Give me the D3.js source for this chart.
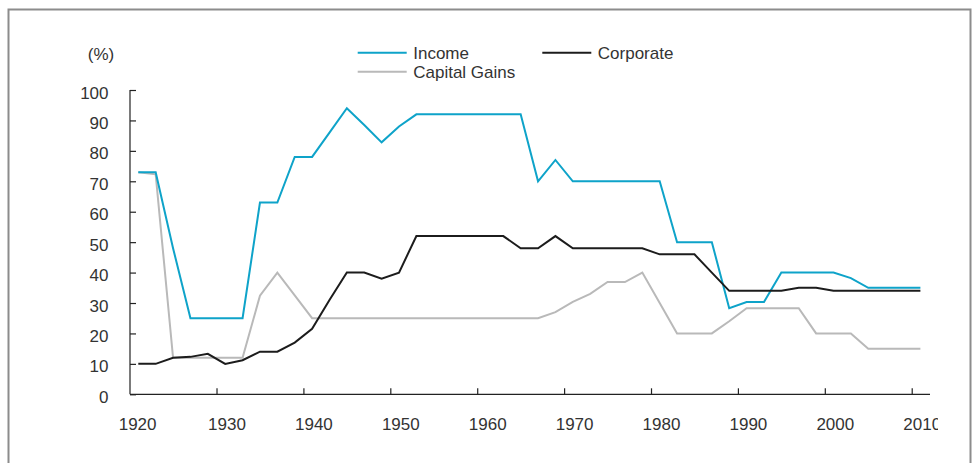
<!DOCTYPE html>
<html>
<head>
<meta charset="utf-8">
<script src="https://cdn.jsdelivr.net/npm/d3@7"></script>
<style>
	body { margin: 0; background: #fff; }
	text { font-family: "Liberation Sans", Arial, sans-serif; }
</style>
</head>
<body>
<div id="container"></div>
<script>
// top marginal tax rates, every second year
var years = [1921, 1923, 1925, 1927, 1929, 1931, 1933, 1935, 1937, 1939,
	1941, 1943, 1945, 1947, 1949, 1951, 1953, 1955, 1957, 1959,
	1961, 1963, 1965, 1967, 1969, 1971, 1973, 1975, 1977, 1979,
	1981, 1983, 1985, 1987, 1989, 1991, 1993, 1995, 1997, 1999,
	2001, 2003, 2005, 2007, 2009, 2011];

var income = [73, 73, 48, 25, 25, 25, 25, 63, 63, 78,
	78, 86, 94, 88.5, 82.8, 88, 92, 92, 92, 92,
	92, 92, 92, 70, 77, 70, 70, 70, 70, 70,
	70, 50, 50, 50, 28.3, 30.3, 30.3, 40, 40, 40,
	40, 38.2, 35, 35, 35, 35];

var corporate = [10, 10, 12, 12.3, 13.3, 10, 11.2, 14, 14, 17,
	21.5, 31, 40, 40, 38, 40, 52, 52, 52, 52,
	52, 52, 48, 48, 52, 48, 48, 48, 48, 48,
	46, 46, 46, 40, 34, 34, 34, 34, 35, 35,
	34, 34, 34, 34, 34, 34];

var capitalGains = [73, 72.3, 12, 12, 12, 12, 12, 32.4, 40, 32.5,
	25, 25, 25, 25, 25, 25, 25, 25, 25, 25,
	25, 25, 25, 25, 27, 30.4, 33, 36.9, 36.9, 40,
	30, 20, 20, 20, 24, 28.3, 28.3, 28.3, 28.3, 20,
	20, 20, 15, 15, 15, 15];

var xTicks = [1920, 1930, 1940, 1950, 1960, 1970, 1980, 1990, 2000, 2010];
var yTicks = [0, 10, 20, 30, 40, 50, 60, 70, 80, 90, 100];

var series = [
	{name: "Capital Gains", values: capitalGains, color: "#b9b9b9"},
	{name: "Income", values: income, color: "#0ea3c9"},
	{name: "Corporate", values: corporate, color: "#1c1c1c"}
];

(function()
{
	var width = 976, height = 463;
	var svg = d3.select("#container").append("svg")
		.attr("width", width).attr("height", height);

	// outer frame
	svg.append("rect")
		.attr("x", 8.5).attr("y", 9.5)
		.attr("width", 962).attr("height", 480)
		.attr("fill", "none").attr("stroke", "#8c8c8c").attr("stroke-width", 2);

	var x = d3.scaleLinear().domain([1921, 2011]).range([138.3, 920.4]);
	var y = d3.scaleLinear().domain([0, 100]).range([394.3, 90]);
	var x0 = 130, x1 = 930;

	// y axis (ticks pointing inward)
	var yAxis = svg.append("g").attr("transform", "translate(" + x0 + ",0)")
		.call(d3.axisRight(y).tickValues(yTicks).tickSize(6).tickFormat(""));
	yAxis.select(".domain").attr("d", "M0," + y(100) + "V" + y(0));
	yAxis.selectAll("line, path").attr("stroke", "#222").attr("stroke-width", 1.2);
	svg.append("g").selectAll("text").data(yTicks).enter().append("text")
		.attr("x", 108.5).attr("y", function(d) { return y(d) + 8.5; })
		.attr("text-anchor", "end").attr("font-size", 17).attr("fill", "#333")
		.text(function(d) { return d; });

	// x axis
	var xAxis = svg.append("g").attr("transform", "translate(0," + y(0) + ")")
		.call(d3.axisTop(x).tickValues(xTicks.slice(1)).tickSize(6).tickFormat(""));
	xAxis.select(".domain").attr("d", "M" + x0 + ",0H" + x1);
	xAxis.selectAll("line, path").attr("stroke", "#222").attr("stroke-width", 1.2);

	// last label is cut off at the plot edge, as in the original
	svg.append("clipPath").attr("id", "labelClip").append("rect")
		.attr("x", 0).attr("y", 0).attr("width", 938).attr("height", height);
	svg.append("g").attr("clip-path", "url(#labelClip)")
		.selectAll("text").data(xTicks).enter().append("text")
		.attr("x", function(d) { return x(d) + (d == 1920 ? 8 : 10.5); }).attr("y", 430)
		.attr("text-anchor", "middle").attr("font-size", 17).attr("fill", "#333")
		.text(function(d) { return d; });

	svg.append("text").attr("x", 101).attr("y", 60)
		.attr("text-anchor", "middle").attr("font-size", 17).attr("fill", "#333")
		.text("(%)");

	// lines
	var line = d3.line()
		.x(function(d, i) { return x(years[i]); })
		.y(function(d) { return y(d); });

	svg.append("g").selectAll("path").data(series).enter().append("path")
		.attr("d", function(s) { return line(s.values); })
		.attr("fill", "none")
		.attr("stroke", function(s) { return s.color; })
		.attr("stroke-width", 2)
		.attr("stroke-linejoin", "miter");

	// legend
	var legendItems = [
		{s: series[1], lx: 357.7, ly: 52.7},
		{s: series[2], lx: 542.3, ly: 52.7},
		{s: series[0], lx: 357.7, ly: 71.7}
	];
	var legend = svg.append("g").selectAll("g").data(legendItems).enter().append("g")
		.attr("transform", function(d) { return "translate(" + d.lx + "," + d.ly + ")"; });
	legend.append("line")
		.attr("x1", 0).attr("x2", 49).attr("y1", 0).attr("y2", 0)
		.attr("stroke", function(d) { return d.s.color; }).attr("stroke-width", 2);
	legend.append("text")
		.attr("x", 55.5).attr("y", 5.8)
		.attr("font-size", 17).attr("fill", "#333")
		.text(function(d) { return d.s.name; });
})();
</script>
</body>
</html>
